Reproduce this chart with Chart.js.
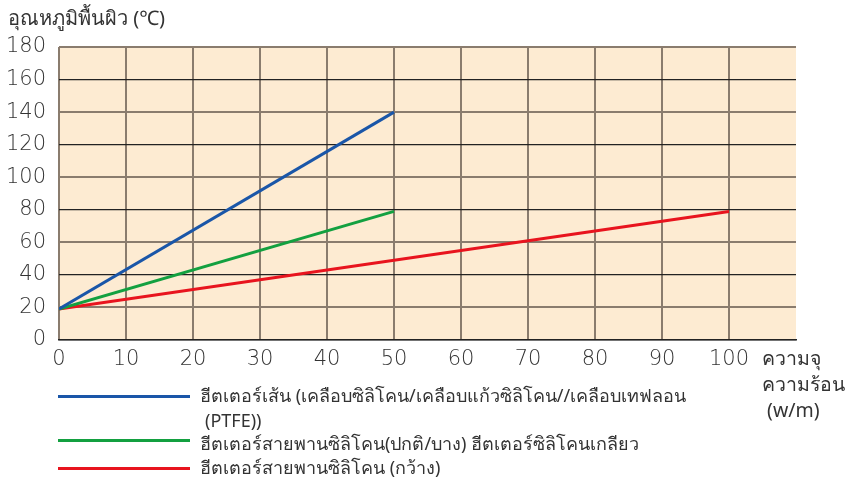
<!DOCTYPE html>
<html>
<head>
<meta charset="utf-8">
<script src="https://cdn.jsdelivr.net/npm/chart.js@4.4.0/dist/chart.umd.min.js"></script>
<style>
  body { margin: 0; background: #fff; }
  #wrap { position: relative; width: 848px; height: 479px; overflow: hidden; font-family: "Noto Sans", "DejaVu Sans", sans-serif; color: #333; }
  #wrap canvas { position: absolute; left: 0; top: 0; }
  .txt { position: absolute; white-space: nowrap; font-size: 18px; line-height: 20px; }
  .leg-line { position: absolute; left: 58px; width: 132px; height: 3px; }
</style>
</head>
<body>
<div id="wrap">
  <canvas id="heaterChart" width="848" height="479"></canvas>
  <div class="txt" style="left:8px; top:8px; font-size:20px;">อุณหภูมิพื้นผิว (℃)</div>
  <div class="txt" style="left:762px; top:345px; font-size:19.5px; line-height:26px;">ความจุ<br>ความร้อน<br>&nbsp;(w/m)</div>
  <div class="leg-line" style="top:395px; background:#1a56a8;"></div>
  <div class="txt" style="left:200px; top:385px;">ฮีตเตอร์เส้น (เคลือบซิลิโคน/เคลือบแก้วซิลิโคน//เคลือบเทฟลอน</div>
  <div class="txt" style="left:205px; top:410px;">(PTFE))</div>
  <div class="leg-line" style="top:439px; background:#13a040;"></div>
  <div class="txt" style="left:200px; top:433px;">ฮีตเตอร์สายพานซิลิโคน(ปกติ/บาง) ฮีตเตอร์ซิลิโคนเกลียว</div>
  <div class="leg-line" style="top:467px; background:#e8141e;"></div>
  <div class="txt" style="left:200px; top:457px;">ฮีตเตอร์สายพานซิลิโคน (กว้าง)</div>
</div>
<script>
// heat output (w/m) and surface temperature (C)
const cordX = [0, 50];
const cordTemp = [19, 140];
const beltX = [0, 50];
const beltTemp = [19, 79];
const wideBeltX = [0, 100];
const wideBeltTemp = [19, 79];
const xTicks = [0, 10, 20, 30, 40, 50, 60, 70, 80, 90, 100];
const yTicks = [0, 20, 40, 60, 80, 100, 120, 140, 160, 180];

const toPoints = (xs, ys) => xs.map((x, i) => ({ x: x, y: ys[i] }));

// plot background
const plotBg = {
    id: 'plotBg',
    beforeDraw(chart) {
        const a = chart.chartArea;
        const c = chart.ctx;
        c.save();
        c.fillStyle = '#fdebd2';
        c.fillRect(a.left, a.top, a.right - a.left, a.bottom - a.top);
        c.restore();
    }
};

const tickFont = { family: 'DejaVu Sans', size: 21, weight: 200 };

const ctx = document.getElementById('heaterChart').getContext('2d');
new Chart(ctx, {
    type: 'line',
    data: {
        datasets: [
            { label: 'ฮีตเตอร์เส้น', data: toPoints(cordX, cordTemp), borderColor: '#1a56a8', borderWidth: 3, pointRadius: 0 },
            { label: 'ฮีตเตอร์สายพานซิลิโคน(ปกติ/บาง)', data: toPoints(beltX, beltTemp), borderColor: '#13a040', borderWidth: 3, pointRadius: 0 },
            { label: 'ฮีตเตอร์สายพานซิลิโคน (กว้าง)', data: toPoints(wideBeltX, wideBeltTemp), borderColor: '#e8141e', borderWidth: 3, pointRadius: 0 }
        ]
    },
    options: {
        responsive: false,
        animation: false,
        layout: { padding: { left: 0, top: 47, right: 52, bottom: 109 } },
        plugins: {
            legend: { display: false },
            tooltip: { enabled: false }
        },
        scales: {
            x: {
                type: 'linear',
                min: 0,
                max: 110,
                afterFit: s => { s.height = 30; },
                afterBuildTicks: s => { s.ticks = xTicks.map(v => ({ value: v })); },
                ticks: { color: '#333', font: tickFont, padding: 7 },
                grid: { color: '#8a7c6e', lineWidth: 2, drawTicks: false },
                border: { color: '#222', width: 1.5 }
            },
            y: {
                min: 0,
                max: 180,
                afterFit: s => { s.width = 59; },
                afterBuildTicks: s => { s.ticks = yTicks.map(v => ({ value: v })); },
                ticks: { color: '#333', font: tickFont, padding: 13 },
                grid: {
                    color: c => (c.tick && c.tick.value % 40 === 0) ? '#222' : '#8a7c6e',
                    lineWidth: c => (c.tick && c.tick.value % 40 === 0) ? 1.2 : 2,
                    drawTicks: false
                },
                border: { display: false }
            }
        }
    },
    plugins: [plotBg]
});
</script>
</body>
</html>
